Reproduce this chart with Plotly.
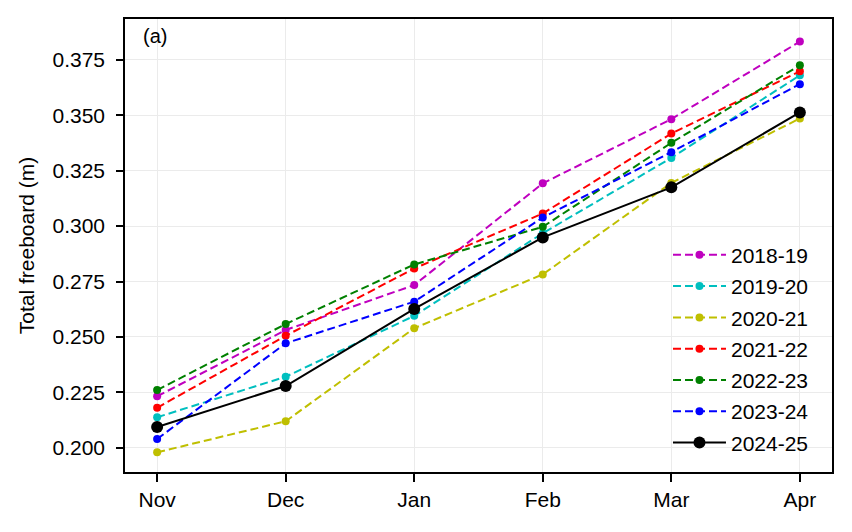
import plotly.graph_objects as go

months = ["Nov", "Dec", "Jan", "Feb", "Mar", "Apr"]
s2018_19 = [0.2232, 0.2531, 0.2734, 0.3193, 0.3483, 0.3833]
s2019_20 = [0.2137, 0.2320, 0.2595, 0.2968, 0.3308, 0.3681]
s2020_21 = [0.1979, 0.2119, 0.2539, 0.2782, 0.3195, 0.3486]
s2021_22 = [0.2180, 0.2505, 0.2809, 0.3057, 0.3418, 0.3699]
s2022_23 = [0.2260, 0.2558, 0.2827, 0.2997, 0.3376, 0.3726]
s2023_24 = [0.2039, 0.2471, 0.2659, 0.3039, 0.3334, 0.3641]
s2024_25 = [0.2093, 0.2278, 0.2626, 0.2949, 0.3175, 0.3513]
y_ticks = [0.200, 0.225, 0.250, 0.275, 0.300, 0.325, 0.350, 0.375]

series = [
    ("2018-19", s2018_19, "#bf00bf"),
    ("2019-20", s2019_20, "#00bfbf"),
    ("2020-21", s2020_21, "#bfbf00"),
    ("2021-22", s2021_22, "#ff0000"),
    ("2022-23", s2022_23, "#008000"),
    ("2023-24", s2023_24, "#0000ff"),
]

FONT = "Liberation Sans, Arial, sans-serif"
FS = 21
xidx = list(range(len(months)))

fig = go.Figure()
for name, vals, col in series:
    fig.add_trace(go.Scatter(
        x=xidx, y=vals, name=name, mode="lines+markers", legendgroup=name,
        line=dict(color=col, width=2, dash="8px,4px"),
        marker=dict(color=col, size=8),
    ))
fig.add_trace(go.Scatter(
    x=xidx, y=s2024_25, name="2024-25", mode="lines+markers", legendgroup="2024-25",
    line=dict(color="black", width=2),
    marker=dict(color="black", size=12),
))

fig.update_layout(
    width=852, height=532,
    margin=dict(l=125, r=20, t=19, b=60),
    plot_bgcolor="white", paper_bgcolor="white",
    font=dict(family=FONT, size=FS, color="black"),
    showlegend=True,
    legend=dict(
        x=0.768, y=0.524, xanchor="left", yanchor="top",
        bgcolor="rgba(0,0,0,0)", font=dict(size=FS),
        tracegroupgap=1, itemwidth=53, borderwidth=0,
    ),
    annotations=[dict(
        text="(a)", xref="paper", yref="paper", x=0.023, y=0.962,
        xanchor="left", yanchor="middle", showarrow=False,
        font=dict(size=20, family=FONT),
    )],
)
fig.update_xaxes(
    range=[-0.25, 5.25], tickmode="array", tickvals=xidx, ticktext=months,
    showgrid=True, gridcolor="#ebebeb", gridwidth=1,
    showline=True, linecolor="black", linewidth=1.5, mirror=True,
    ticks="outside", ticklen=8, tickwidth=1.5, tickcolor="black",
    zeroline=False,
)
fig.update_yaxes(
    range=[0.189, 0.3935], tickmode="array", tickvals=y_ticks,
    ticktext=[f"{v:.3f}" for v in y_ticks],
    showgrid=True, gridcolor="#ebebeb", gridwidth=1,
    showline=True, linecolor="black", linewidth=1.5, mirror=True,
    ticks="outside", ticklen=7, tickwidth=1.5, tickcolor="black",
    ticklabelstandoff=7,
    zeroline=False,
    title=dict(text="Total freeboard (m)", standoff=12, font=dict(size=FS)),
)

fig.write_html("out.html", config={"displayModeBar": False},
               post_script="document.body.style.margin='0';")
